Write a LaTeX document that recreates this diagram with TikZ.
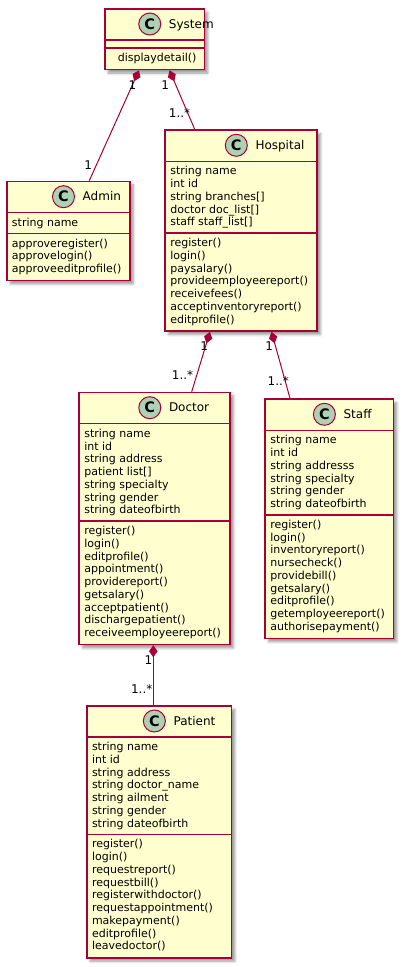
\documentclass[tikz,border=0pt]{standalone}
\usepackage{fontspec}
\setmainfont{DejaVu Sans}
\usetikzlibrary{arrows.meta,shadows.blur}

\definecolor{umlborder}{HTML}{A80036}
\definecolor{umlfill}{HTML}{FEFECE}
\definecolor{umlbadge}{HTML}{ADD1B2}

\newlength\clsnamewd
\newcommand\memberfont{\fontsize{11}{12.75}\selectfont}
\newcommand\titlefont{\fontsize{12}{14}\selectfont}
\newcommand\multfont{\fontsize{12}{14}\selectfont}
% strut giving every member line the same height and depth
\newcommand\ml{\rule[-3.15pt]{0pt}{12.75pt}}
\newcommand\txtinset{5.8}

% #1 node name, #2 class title, #3 left x, #4 right x, #5 top y,
% #6 number of attributes, #7 number of operations, #8 attributes, #9 operations
\newcommand{\umlclass}[9]{%
  \pgfmathsetmacro\cA{#5+32}%
  \pgfmathsetmacro\cB{\cA+#6*12.75+8}%
  \pgfmathsetmacro\cC{\cB+#7*12.75+8}%
  \pgfmathsetmacro\cW{#4-#3}%
  \pgfmathsetmacro\cH{\cC-#5}%
  \settowidth\clsnamewd{\titlefont #2}%
  \pgfmathsetmacro\cG{(#3+#4)/2-(30+\clsnamewd)/2}%
  \node[classbox, minimum width=\cW pt, minimum height=\cH pt] (#1) at (#3,#5) {};
  \draw[divider] (#3,\cA) -- (#4,\cA);
  \draw[divider] (#3,\cB) -- (#4,\cB);
  \node[badge] (#1-badge) at (\cG+11,#5+16) {C};
  \node[classname] (#1-name) at (\cG+30,#5+20.2) {#2};
  \ifnum#6>0 \node[members] (#1-attrs) at (#3+\txtinset,{(\cA+\cB)/2}) {#8};\fi
  \node[members] (#1-ops) at (#3+\txtinset,{(\cB+\cC)/2}) {#9};
}

\begin{document}
\begin{tikzpicture}[x=1pt,y=-1pt,
  classbox/.style={rectangle, draw=umlborder, fill=umlfill, line width=1.5pt,
    anchor=north west, inner sep=0pt,
    blur shadow={shadow xshift=3.5pt, shadow yshift=-3.5pt,
      shadow blur radius=2.5pt, shadow opacity=40}},
  divider/.style={draw=umlborder, line width=1.5pt},
  badge/.style={circle, draw=umlborder, fill=umlbadge, line width=1pt,
    minimum size=22pt, inner sep=0pt, font=\bfseries\fontsize{14.5}{16}\selectfont},
  classname/.style={anchor=base west, inner sep=0pt, font=\titlefont},
  members/.style={anchor=west, align=left, inner sep=0pt, font=\memberfont},
  comp/.style={draw=umlborder, line width=1pt, {Diamond[length=12pt,width=8.5pt]}-},
  mult/.style={inner sep=0pt, font=\multfont}]

\useasboundingbox (0,0) rectangle (403,967);

\renewcommand\txtinset{13.7}
\umlclass{system}{System}{104}{203.5}{8}{0}{1}{}{\ml displaydetail()}
\renewcommand\txtinset{5.8}

\umlclass{admin}{Admin}{6}{129}{180.7}{1}{3}
  {\ml string name}
  {\ml approveregister()\\\ml approvelogin()\\\ml approveeditprofile()}

\umlclass{hospital}{Hospital}{164.3}{316.3}{129.3}{5}{7}
  {\ml string name\\\ml int id\\\ml string branches[]\\\ml doctor doc\_list[]\\\ml staff staff\_list[]}
  {\ml register()\\\ml login()\\\ml paysalary()\\\ml provideemployeereport()\\\ml receivefees()\\\ml acceptinventoryreport()\\\ml editprofile()}

\umlclass{doctor}{Doctor}{78.3}{229.3}{391.7}{7}{9}
  {\ml string name\\\ml int id\\\ml string address\\\ml patient list[]\\\ml string specialty\\\ml string gender\\\ml string dateofbirth}
  {\ml register()\\\ml login()\\\ml editprofile()\\\ml appointment()\\\ml providereport()\\\ml getsalary()\\\ml acceptpatient()\\\ml dischargepatient()\\\ml receiveemployeereport()}

\umlclass{staff}{Staff}{264.3}{392.5}{398.3}{6}{9}
  {\ml string name\\\ml int id\\\ml string addresss\\\ml string specialty\\\ml string gender\\\ml string dateofbirth}
  {\ml register()\\\ml login()\\\ml inventoryreport()\\\ml nursecheck()\\\ml providebill()\\\ml getsalary()\\\ml editprofile()\\\ml getemployeereport()\\\ml authorisepayment()}

\umlclass{patient}{Patient}{86}{230.7}{705}{7}{9}
  {\ml string name\\\ml int id\\\ml string address\\\ml string doctor\_name\\\ml string ailment\\\ml string gender\\\ml string dateofbirth}
  {\ml register()\\\ml login()\\\ml requestreport()\\\ml requestbill()\\\ml registerwithdoctor()\\\ml requestappointment()\\\ml makepayment()\\\ml editprofile()\\\ml leavedoctor()}

% connector end points on the class borders
\coordinate (sys-adm) at ([xshift=35pt]system.south west);
\coordinate (sys-hos) at ([xshift=65.5pt]system.south west);
\coordinate (adm-top) at ([xshift=83.3pt]admin.north west);
\coordinate (hos-top) at ([xshift=30.4pt]hospital.north west);
\coordinate (hos-doc) at ([xshift=45.7pt]hospital.south west);
\coordinate (hos-stf) at ([xshift=107.2pt]hospital.south west);
\coordinate (doc-top) at ([xshift=113.4pt]doctor.north west);
\coordinate (doc-pat) at ([xshift=75pt]doctor.south west);
\coordinate (stf-top) at ([xshift=25.7pt]staff.north west);
\coordinate (pat-top) at ([xshift=67.3pt]patient.north west);

% compositions
\draw[comp] (sys-adm) -- (adm-top);
\draw[comp] (sys-hos) -- (hos-top);
\draw[comp] (hos-doc) -- (doc-top);
\draw[comp] (hos-stf) -- (stf-top);
\draw[comp] (doc-pat) -- (pat-top);

% multiplicities
\node[mult] (m-sys-adm) at (132.5,85) {1};
\node[mult] (m-sys-hos) at (165.2,85) {1};
\node[mult] (m-hos-top) at (179.5,113.5) {1..*};
\node[mult] (m-adm-top) at (88.2,165) {1};
\node[mult] (m-hos-doc) at (204.2,346.5) {1};
\node[mult] (m-doc-top) at (182.5,375.2) {1..*};
\node[mult] (m-hos-stf) at (269.2,346.5) {1};
\node[mult] (m-stf-top) at (278.3,381) {1..*};
\node[mult] (m-doc-pat) at (148.5,660.5) {1};
\node[mult] (m-pat-top) at (141.7,689) {1..*};

\end{tikzpicture}
\end{document}
